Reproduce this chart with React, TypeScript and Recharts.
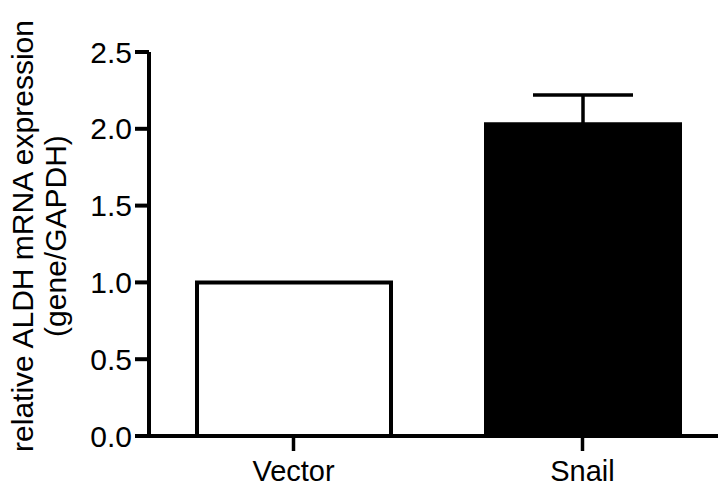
import React from 'react'
import {
  BarChart,
  Bar,
  Cell,
  XAxis,
  YAxis,
  ErrorBar,
} from 'recharts'

const categories = ['Vector', 'Snail']
const expression = [1.0, 2.03]
const sem = [0, 0.19]
const barFills = ['#ffffff', '#000000']
const yTicks = [0, 0.5, 1.0, 1.5, 2.0, 2.5]

const data = categories.map((name, i) => ({
  name,
  value: expression[i],
  err: sem[i],
}))

const font = '"Liberation Sans", Arial, sans-serif'

const AxisTitle = () => (
  <g>
    <text
      transform="translate(33,236) rotate(-90)"
      textAnchor="middle"
      fontSize={30}
      fontFamily={font}
      fill="#000"
    >
      relative ALDH mRNA expression
    </text>
    <text
      transform="translate(66,236) rotate(-90)"
      textAnchor="middle"
      fontSize={30}
      fontFamily={font}
      fill="#000"
    >
      (gene/GAPDH)
    </text>
  </g>
)

export default function App() {
  return (
    <div style={{
      position: 'absolute', left: 0, top: 0, width: 718, height: 486, overflow: 'hidden', background: '#fff',
    }}
    >
      <BarChart
        width={740}
        height={486}
        data={data}
        margin={{
          top: 52, right: 13, left: 0, bottom: 0,
        }}
        barCategoryGap={0}
      >
        <XAxis
          dataKey="name"
          height={50}
          axisLine={{ stroke: '#000', strokeWidth: 4 }}
          tickLine={{ stroke: '#000', strokeWidth: 3.5 }}
          tickSize={15}
          tickMargin={9}
          tick={{ fill: '#000', fontSize: 29, fontFamily: font }}
        />
        <YAxis
          width={149}
          domain={[0, 2.5]}
          ticks={yTicks}
          interval={0}
          tickFormatter={(v: number) => v.toFixed(1)}
          axisLine={{ stroke: '#000', strokeWidth: 4 }}
          tickLine={{ stroke: '#000', strokeWidth: 4 }}
          tickSize={14}
          tickMargin={3}
          tick={{ fill: '#000', fontSize: 30, fontFamily: font }}
          label={{ content: AxisTitle }}
        />
        <Bar
          dataKey="value"
          barSize={194}
          stroke="#000"
          strokeWidth={4}
          isAnimationActive={false}
        >
          {data.map((d, i) => (
            <Cell key={d.name} fill={barFills[i]} />
          ))}
          <ErrorBar dataKey="err" width={50} stroke="#000" strokeWidth={3.5} isAnimationActive={false} />
        </Bar>
      </BarChart>
    </div>
  )
}
